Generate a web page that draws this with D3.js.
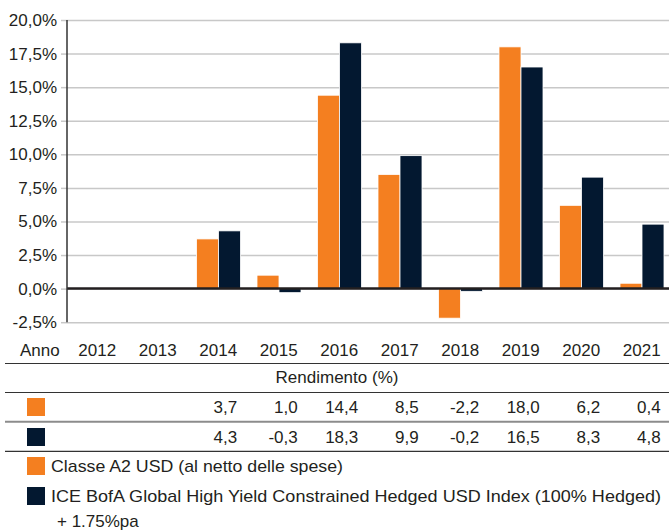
<!DOCTYPE html>
<html>
<head>
<meta charset="utf-8">
<script src="https://cdn.jsdelivr.net/npm/d3@7"></script>
<style>
  html, body { margin: 0; padding: 0; background: #fff; }
  svg { display: block; }
  text { font-family: "Liberation Sans", Arial, sans-serif; fill: #231f20; }
</style>
</head>
<body>
<svg id="chart" width="669" height="531"></svg>
<script>
const years = ["2012","2013","2014","2015","2016","2017","2018","2019","2020","2021"];
const classeA2 = [null, null, 3.7, 1.0, 14.4, 8.5, -2.2, 18.0, 6.2, 0.4];
const benchmark = [null, null, 4.3, -0.3, 18.3, 9.9, -0.2, 16.5, 8.3, 4.8];
const yTicks = [-2.5, 0, 2.5, 5, 7.5, 10, 12.5, 15, 17.5, 20];
const seriesNames = ["Classe A2 USD (al netto delle spese)",
  "ICE BofA Global High Yield Constrained Hedged USD Index (100% Hedged)"];
const seriesNameCont = "+ 1.75%pa";
const colors = ["#f47f20", "#031830"];
const rowLabelAnno = "Anno";
const tableTitle = "Rendimento (%)";

const locale = d3.formatLocale({decimal: ",", thousands: ".", grouping: [3], currency: ["", "€"], minus: "-"});
const fmtPct = v => locale.format(".1f")(v) + "%";
const fmtVal = locale.format(".1f");

const svg = d3.select("#chart");
const fs = 17;

const x0 = d3.scaleBand().domain(years).range([67, 672]).padding(0);
const x1 = d3.scaleBand().domain([0, 1]).range([8.5, 52.5]).padding(0);
const y = d3.scaleLinear().domain([-2.5, 20]).range([322.2, 20]);

// gridlines + ticks via axis
const yAxis = d3.axisLeft(y).tickValues(yTicks).tickSize(6).tickPadding(4).tickFormat(fmtPct);
const gY = svg.append("g").attr("transform", "translate(67,0)").call(yAxis);
gY.select(".domain").remove();
gY.selectAll(".tick line").attr("stroke", "#c8c8c8").attr("stroke-width", 1.5);
gY.selectAll(".tick text").style("font-size", fs + "px").attr("fill", "#231f20")
  .style("font-family", "'Liberation Sans', Arial, sans-serif");
gY.selectAll(".tick").append("line")
  .attr("x1", 0).attr("x2", 669 - 67)
  .attr("stroke", "#c8c8c8").attr("stroke-width", 1.5);

// bars
const series = [classeA2, benchmark];
const groups = svg.append("g").selectAll("g").data(years).join("g")
  .attr("transform", d => `translate(${x0(d)},0)`);
groups.selectAll("rect")
  .data((d, i) => series.map((s, k) => ({k, v: s[i]})).filter(e => e.v !== null))
  .join("rect")
  .attr("x", d => x1(d.k))
  .attr("width", x1.bandwidth())
  .attr("y", d => y(Math.max(0, d.v)))
  .attr("height", d => Math.abs(y(d.v) - y(0)))
  .attr("fill", d => colors[d.k])
  .attr("stroke", "#ffffff").attr("stroke-width", 0.8);

// zero line and axis line
svg.append("line").attr("x1", 67).attr("x2", 669).attr("y1", y(0)).attr("y2", y(0))
  .attr("stroke", "#231f20").attr("stroke-width", 2.5);
svg.append("line").attr("x1", 67).attr("x2", 67).attr("y1", y(20)).attr("y2", y(-2.5))
  .attr("stroke", "#333").attr("stroke-width", 1.5);

// table
const tbl = svg.append("g");
tbl.append("text").attr("x", 20).attr("y", 356).style("font-size", fs + "px").text(rowLabelAnno);
tbl.selectAll(".yr").data(years).join("text").attr("class", "yr")
  .attr("x", d => x0(d) + x0.bandwidth() / 2).attr("y", 356)
  .attr("text-anchor", "middle").style("font-size", fs + "px").text(d => d);

const hlines = [{y: 363.5, c: "#333", w: 1.2}, {y: 392.5, c: "#333", w: 1.2},
                {y: 421.7, c: "#8c8c8c", w: 2}, {y: 451.3, c: "#333", w: 1.2}];
tbl.selectAll(".hl").data(hlines).join("line").attr("class", "hl")
  .attr("x1", 5).attr("x2", 669).attr("y1", d => d.y).attr("y2", d => d.y)
  .attr("stroke", d => d.c).attr("stroke-width", d => d.w);

tbl.append("text").attr("x", 337).attr("y", 383).attr("text-anchor", "middle")
  .style("font-size", fs + "px").text(tableTitle);

const rowY = [413, 443];
const sqY = [398, 428];
series.forEach((s, k) => {
  tbl.append("rect").attr("x", 27).attr("y", sqY[k]).attr("width", 18).attr("height", 18)
    .attr("fill", colors[k]);
  tbl.selectAll(".v" + k).data(years.map((yr, i) => ({yr, v: s[i]})).filter(e => e.v !== null))
    .join("text").attr("class", "v" + k)
    .attr("x", d => x0(d.yr) + x0.bandwidth() / 2 + 19).attr("y", rowY[k])
    .attr("text-anchor", "end").style("font-size", fs + "px").text(d => fmtVal(d.v));
});

// legend
const legY = [457, 487];
const legLen = [292, 610];
seriesNames.forEach((n, k) => {
  svg.append("rect").attr("x", 27).attr("y", legY[k]).attr("width", 18).attr("height", 18)
    .attr("fill", colors[k]);
  svg.append("text").attr("x", 51).attr("y", legY[k] + 15).style("font-size", fs + "px")
    .attr("textLength", legLen[k]).attr("lengthAdjust", "spacingAndGlyphs").text(n);
});
svg.append("text").attr("x", 57).attr("y", 527).style("font-size", fs + "px").text(seriesNameCont);
</script>
</body>
</html>
